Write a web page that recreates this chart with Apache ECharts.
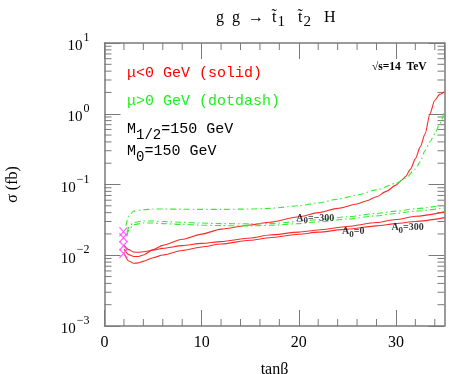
<!DOCTYPE html>
<html>
<head>
<meta charset="utf-8">
<script src="https://cdn.jsdelivr.net/npm/echarts@6/dist/echarts.min.js"></script>
<style>
  html, body { margin: 0; padding: 0; background: #fff; }
  #main { width: 449px; height: 374px; }
</style>
</head>
<body>
<div id="main"></div>
<script>
// tan(beta) grids for each curve
var tbRed = [2, 2.5, 3, 3.5, 4, 5, 6, 8, 10, 12, 15, 17, 20, 22, 25, 28, 30, 32, 35];
var tbRedM300 = [2, 2.5, 3, 3.5, 4, 5, 6, 8, 10, 12, 15, 17, 20, 22, 24, 26, 27, 28, 29, 30, 30.5, 31, 31.5, 32, 32.5, 33, 33.5, 34, 34.5, 35];
var tbGreenM300 = [2.2, 2.5, 3, 4, 5, 6, 8, 10, 12, 15, 17, 20, 22, 24, 26, 28, 30, 31, 32, 32.5, 33, 33.5, 34, 34.5, 35];
var tbGreen = [2.3, 2.6, 3, 4, 5, 6, 8, 10, 12, 15, 17, 20, 22, 25, 28, 30, 32, 35];

// mu<0 (solid, red), sigma in fb
var redA0m300 = [0.0122, 0.0102, 0.0096, 0.0096, 0.0101, 0.0120, 0.0138, 0.0168, 0.0199, 0.0234, 0.0268, 0.0292, 0.035, 0.040, 0.046, 0.053, 0.059, 0.067, 0.080, 0.098, 0.112, 0.13, 0.165, 0.23, 0.34, 0.52, 1.0, 1.55, 1.88, 2.05];
var redA0p300 = [0.0138, 0.0120, 0.0111, 0.0110, 0.0112, 0.0118, 0.0125, 0.0137, 0.0147, 0.0156, 0.0175, 0.0193, 0.0212, 0.0228, 0.0255, 0.029, 0.032, 0.0355, 0.041];
var redA00 = [0.0107, 0.0083, 0.0077, 0.0078, 0.0082, 0.0092, 0.0101, 0.0117, 0.0131, 0.0144, 0.0163, 0.0177, 0.0198, 0.0212, 0.0234, 0.026, 0.028, 0.030, 0.034];

// mu>0 (dotdash, green)
var greenA0m300 = [0.026, 0.036, 0.042, 0.044, 0.045, 0.045, 0.0448, 0.0445, 0.0445, 0.045, 0.046, 0.050, 0.055, 0.062, 0.071, 0.084, 0.104, 0.123, 0.165, 0.21, 0.30, 0.40, 0.52, 0.72, 1.1];
var greenA0p300 = [0.021, 0.026, 0.029, 0.0305, 0.0305, 0.030, 0.0292, 0.0285, 0.028, 0.0278, 0.028, 0.030, 0.0318, 0.035, 0.039, 0.042, 0.0455, 0.0514];
var greenA00 = [0.019, 0.024, 0.027, 0.0285, 0.0285, 0.028, 0.0273, 0.0266, 0.0262, 0.026, 0.0265, 0.028, 0.0296, 0.0325, 0.036, 0.039, 0.042, 0.0466];

// excluded points (magenta crosses)
var crossTb = [1.95, 1.95, 1.95, 1.95];
var crossSigma = [0.0215, 0.0177, 0.0136, 0.0106];

// curve labels
var labelTxt = ['{a|A}{s|0}{a|=\u2212300}', '{a|A}{s|0}{a|=0}', '{a|A}{s|0}{a|=300}'];
var labelTb = [21.7, 25.6, 31.2];
var labelSigma = [0.0336, 0.0216, 0.0249];

// ticks
var xTicks = [0, 10, 20, 30];
var xMinorTicks = [2, 4, 6, 8, 12, 14, 16, 18, 22, 24, 26, 28, 32, 34];
var yMinorTicks = [];
[0.001, 0.01, 0.1, 1].forEach(function (d) {
  [2, 3, 4, 5, 6, 7, 8, 9].forEach(function (m) { yMinorTicks.push(m * d); });
});

function pairs(xs, ys) {
  return xs.map(function (x, i) { return [x, ys[i]]; });
}

var serif = '"Liberation Serif", "DejaVu Serif", serif';
var mono = '"Liberation Mono", "DejaVu Sans Mono", monospace';
var axisGrey = '#7a7a7a';
var red = '#ff2a2a';
var green = '#33ee33';
var minorLen = 7;

var chart = echarts.init(document.getElementById('main'));

function xAxisCfg(pos, showLabel) {
  return {
    type: 'value', position: pos, min: 0, max: 35, interval: 10,
    axisLine: { show: true, onZero: false, lineStyle: { color: axisGrey, width: 1.5 } },
    axisTick: { show: true, inside: true, length: 16, lineStyle: { color: axisGrey, width: 1 } },
    splitLine: { show: false },
    axisLabel: {
      show: showLabel, showMaxLabel: false, margin: 9,
      fontFamily: serif, fontSize: 16, color: '#000',
      formatter: function (v) { return xTicks.indexOf(v) >= 0 ? String(v) : ''; }
    },
    name: showLabel ? 'tan\u03b2' : '', nameLocation: 'middle', nameGap: 36,
    nameTextStyle: { fontFamily: serif, fontSize: 16, color: '#000' }
  };
}

function yAxisCfg(pos, showLabel) {
  return {
    type: 'log', logBase: 10, position: pos, min: 0.001, max: 10,
    axisLine: { show: true, onZero: false, lineStyle: { color: axisGrey, width: 1.5 } },
    axisTick: { show: true, inside: true, length: 16, lineStyle: { color: axisGrey, width: 1 } },
    splitLine: { show: false },
    axisLabel: {
      show: showLabel, margin: 15,
      formatter: function (v) {
        var e = Math.round(Math.log(v) / Math.LN10);
        return '{b|10}{s|' + (e < 0 ? '\u2212' + (-e) : e) + '}';
      },
      rich: {
        b: { fontFamily: serif, fontSize: 15, color: '#000', lineHeight: 26, verticalAlign: 'bottom', padding: [0, 0, 2, 0] },
        s: { fontFamily: serif, fontSize: 12, color: '#000', lineHeight: 12, verticalAlign: 'top', padding: [2, 0, 0, 1] }
      }
    },
    name: showLabel ? '\u03c3 (fb)' : '', nameLocation: 'middle', nameGap: 84, nameRotate: 90,
    nameTextStyle: { fontFamily: serif, fontSize: 16, color: '#000' }
  };
}

function redLine(name, xs, ys) {
  return {
    name: name, type: 'line', data: pairs(xs, ys), xAxisIndex: 0, yAxisIndex: 0,
    showSymbol: false, smooth: 0.25, smoothMonotone: 'x',
    lineStyle: { color: red, width: 1.1 }, z: 3
  };
}
function greenLine(name, xs, ys) {
  return {
    name: name, type: 'line', data: pairs(xs, ys), xAxisIndex: 0, yAxisIndex: 0,
    showSymbol: false, smooth: 0.25, smoothMonotone: 'x',
    lineStyle: { color: green, width: 1.1, type: [6, 3, 1.5, 3] }, z: 3
  };
}

// minor tick marks drawn through the axis scales, mirrored on both sides
function tickLine(x1, y1, x2, y2) {
  return { type: 'line', shape: { x1: x1, y1: y1, x2: x2, y2: y2 }, style: { stroke: axisGrey, lineWidth: 1 } };
}
var xMinorSeries = {
  type: 'custom', clip: false, xAxisIndex: 0, yAxisIndex: 0,
  data: xMinorTicks.map(function (v) { return [v, 1]; }),
  renderItem: function (params, api) {
    var cs = params.coordSys;
    var px = api.coord([api.value(0), 1])[0];
    return { type: 'group', children: [
      tickLine(px, cs.y + cs.height, px, cs.y + cs.height - minorLen),
      tickLine(px, cs.y, px, cs.y + minorLen)
    ] };
  }
};
var yMinorSeries = {
  type: 'custom', clip: false, xAxisIndex: 0, yAxisIndex: 0,
  data: yMinorTicks.map(function (v) { return [1, v]; }),
  renderItem: function (params, api) {
    var cs = params.coordSys;
    var py = api.coord([1, api.value(1)])[1];
    return { type: 'group', children: [
      tickLine(cs.x, py, cs.x + minorLen, py),
      tickLine(cs.x + cs.width, py, cs.x + cs.width - minorLen, py)
    ] };
  }
};

var monoRich = {
  a: { fontFamily: mono, fontSize: 15, fill: '#000', verticalAlign: 'middle' },
  s: { fontFamily: mono, fontSize: 14, fill: '#000', verticalAlign: 'middle', padding: [12, 0, 0, 0] }
};

var option = {
  animation: false,
  backgroundColor: '#fff',
  grid: { left: 104.5, right: 4.5, top: 43, bottom: 48, containLabel: false, outerBoundsMode: 'none' },
  xAxis: [xAxisCfg('bottom', true), xAxisCfg('top', false)],
  yAxis: [yAxisCfg('left', true), yAxisCfg('right', false)],
  title: {
    text: '{n|g  g  \u2192  t\u0303}{d|1}{n|   t\u0303}{d|2}{n|   H}',
    left: 211, top: 0,
    textStyle: {
      fontWeight: 'normal',
      rich: {
        n: { fontFamily: serif, fontSize: 16, fontWeight: 'normal', color: '#000', verticalAlign: 'middle' },
        d: { fontFamily: serif, fontSize: 15, fontWeight: 'normal', color: '#000', verticalAlign: 'middle', padding: [10, 1, 0, 1] }
      }
    }
  },
  graphic: [
    { type: 'text', left: 127, top: 66, style: { text: '\u03bc<0 GeV (solid)', fill: '#ff0000', font: '15px ' + mono } },
    { type: 'text', left: 127, top: 94, style: { text: '\u03bc>0 GeV (dotdash)', fill: '#22ee22', font: '15px ' + mono } },
    { type: 'text', left: 127, top: 122, style: { text: '{a|M}{s|1/2}{a|=150 GeV}', fill: '#000', rich: monoRich } },
    { type: 'text', left: 127, top: 144, style: { text: '{a|M}{s|0}{a|=150 GeV}', fill: '#000', rich: monoRich } },
    { type: 'text', left: 372, top: 61, style: { text: '\u221as=14  TeV', fill: '#000', font: 'bold 11.5px ' + serif } }
  ],
  series: [
    redLine('A0=-300 mu<0', tbRedM300, redA0m300),
    redLine('A0=300 mu<0', tbRed, redA0p300),
    redLine('A0=0 mu<0', tbRed, redA00),
    greenLine('A0=-300 mu>0', tbGreenM300, greenA0m300),
    greenLine('A0=300 mu>0', tbGreen, greenA0p300),
    greenLine('A0=0 mu>0', tbGreen, greenA00),
    xMinorSeries,
    yMinorSeries,
    {
      name: 'excluded', type: 'scatter', data: pairs(crossTb, crossSigma),
      symbol: 'path://M0,0 L10,12 M10,0 L0,12', symbolSize: [8, 9],
      itemStyle: { color: 'none', borderColor: '#ff44ff', borderWidth: 1.2 }, z: 4
    },
    {
      name: 'labels', type: 'scatter', symbolSize: 0, z: 5,
      data: labelTb.map(function (x, i) { return { value: [x, labelSigma[i]], lab: labelTxt[i] }; }),
      label: {
        show: true, position: 'inside',
        formatter: function (p) { return p.data.lab; },
        rich: {
          a: { fontFamily: serif, fontSize: 10, fontWeight: 'bold', color: '#000', verticalAlign: 'middle' },
          s: { fontFamily: serif, fontSize: 9, fontWeight: 'bold', color: '#000', verticalAlign: 'middle', padding: [6, 0, 0, 0] }
        }
      }
    }
  ]
};

chart.setOption(option);
</script>
</body>
</html>
